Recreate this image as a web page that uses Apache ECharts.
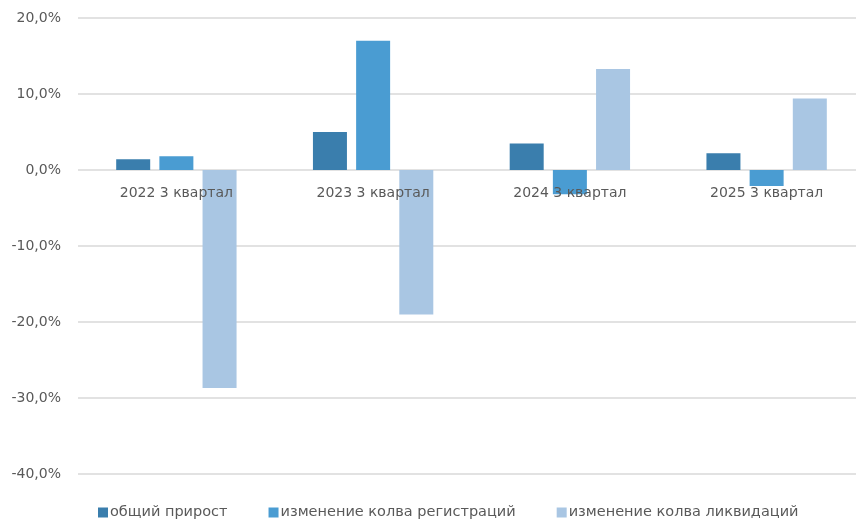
<!DOCTYPE html>
<html>
<head>
<meta charset="utf-8">
<script src="https://cdn.jsdelivr.net/npm/echarts@6/dist/echarts.min.js"></script>
<style>
  html, body { margin: 0; padding: 0; background: #fff; overflow: hidden; }
  /* область построения уходит чуть за правый край кадра, как в оригинале */
  #main { width: 865px; height: 523px; }
</style>
</head>
<body>
<div id="main"></div>
<script>
// категории и ряды (в процентах)
var categories = ["2022 3 квартал", "2023 3 квартал", "2024 3 квартал", "2025 3 квартал"];
var seriesNames = ["общий прирост", "изменение колва регистраций", "изменение колва ликвидаций"];
var totalGrowth = [1.4, 5.0, 3.5, 2.2];
var regChange = [1.8, 17.0, -3.2, -2.1];
var liqChange = [-28.7, -19.0, 13.3, 9.4];
var colors = ["#3a7ead", "#4a9cd2", "#a9c6e3"];

var myChart = echarts.init(document.getElementById("main"));

function pct(v) {
    return v.toFixed(1).replace(".", ",") + "%";
}

// подписи категорий стоят у нуля: 0 находится на 304px выше низа сетки
var zeroShift = 304;

var option = {
    animation: false,
    color: colors,
    textStyle: { fontFamily: "DejaVu Sans" },
    grid: { left: 78, right: 0, top: 18, bottom: 49, containLabel: false },
    legend: {
        bottom: 3,
        left: 98,
        padding: 0,
        icon: "rect",
        itemWidth: 10,
        itemHeight: 10,
        itemGap: 41,
        textStyle: { color: "#595959", fontSize: 14.5, padding: [0, 0, 0, -3] },
        data: seriesNames
    },
    xAxis: {
        type: "category",
        data: categories,
        z: 3,
        axisTick: { show: false },
        axisLine: { show: false, onZero: false },
        axisLabel: { color: "#595959", fontSize: 14, margin: 16 - zeroShift }
    },
    yAxis: {
        type: "value",
        min: -40,
        max: 20,
        interval: 10,
        axisLine: { show: false },
        axisTick: { show: false },
        splitLine: { lineStyle: { color: "#d9d9d9", width: 1.5 } },
        axisLabel: { color: "#595959", fontSize: 14, margin: 17, formatter: pct }
    },
    series: [
        { name: seriesNames[0], type: "bar", data: totalGrowth, barWidth: 34, barGap: "27%" },
        { name: seriesNames[1], type: "bar", data: regChange, barWidth: 34, barGap: "27%" },
        { name: seriesNames[2], type: "bar", data: liqChange, barWidth: 34, barGap: "27%" }
    ]
};

myChart.setOption(option);
</script>
</body>
</html>
